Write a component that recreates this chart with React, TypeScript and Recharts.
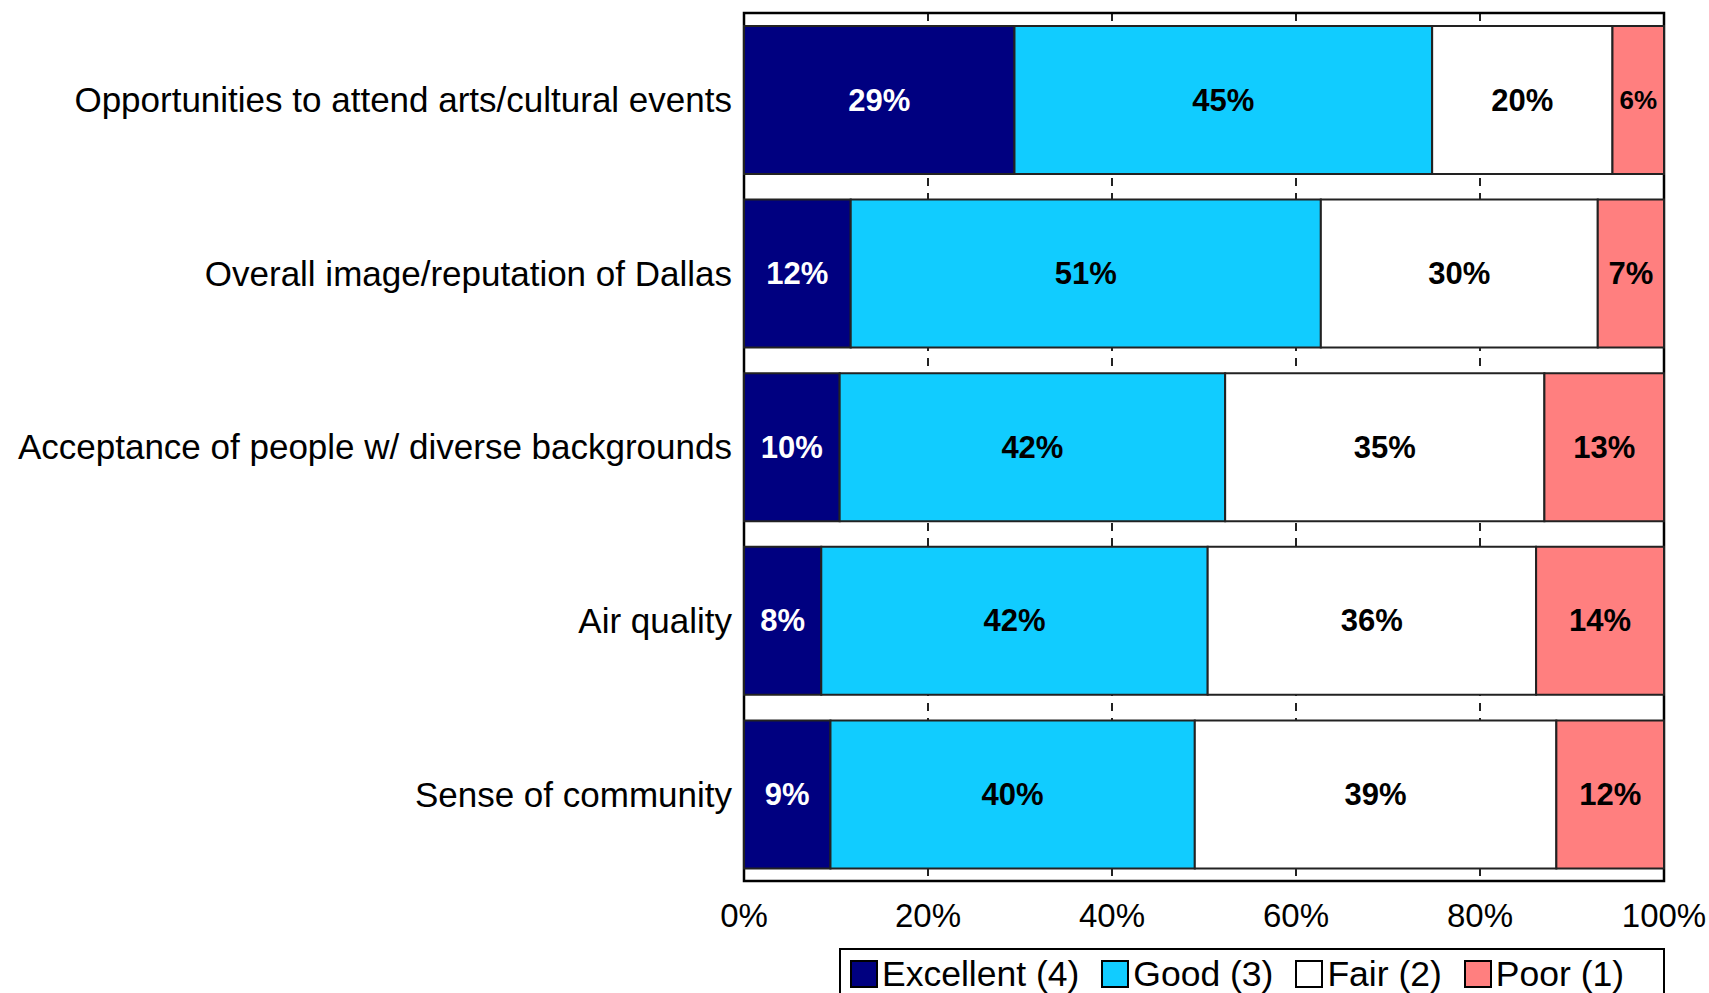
import React from 'react';
import {
  Bar,
  BarChart,
  CartesianGrid,
  LabelList,
  Legend,
  ReferenceArea,
  XAxis,
  YAxis,
} from 'recharts';

const CATEGORIES = [
  'Opportunities to attend arts/cultural events',
  'Overall image/reputation of Dallas',
  'Acceptance of people w/ diverse backgrounds',
  'Air quality',
  'Sense of community',
];

const EXCELLENT = [29.4, 11.6, 10.4, 8.4, 9.4];
const GOOD = [45.4, 51.1, 41.9, 42.0, 39.6];
const FAIR = [19.6, 30.1, 34.7, 35.7, 39.3];
const POOR = [5.6, 7.2, 13.0, 13.9, 11.7];

const X_TICKS = [0, 20, 40, 60, 80, 100];

const SERIES = [
  { key: 'excellent', name: 'Excellent (4)', color: '#000080', text: '#FFFFFF' },
  { key: 'good', name: 'Good (3)', color: '#11CCFF', text: '#000000' },
  { key: 'fair', name: 'Fair (2)', color: '#FFFFFF', text: '#000000' },
  { key: 'poor', name: 'Poor (1)', color: '#FF7F7F', text: '#000000' },
];

const DATA = CATEGORIES.map((name, i) => ({
  name,
  excellent: EXCELLENT[i],
  good: GOOD[i],
  fair: FAIR[i],
  poor: POOR[i],
}));

const FONT = '"Liberation Sans", Arial, sans-serif';

const makeLabel = (fill: string) => (props: any) => {
  const { x, y, width, height, value } = props;
  const size = width < 55 ? 26 : 31;
  return (
    <text
      x={x + width / 2}
      y={y + height / 2}
      textAnchor="middle"
      dominantBaseline="central"
      fill={fill}
      fontFamily={FONT}
      fontWeight="bold"
      fontSize={size}
    >
      {Math.round(value)}%
    </text>
  );
};

const LegendBox: React.FC<any> = () => (
  <div
    style={{
      border: '2px solid #000',
      height: 52,
      width: 826,
      boxSizing: 'border-box',
      display: 'flex',
      alignItems: 'center',
      paddingLeft: 9,
      fontFamily: FONT,
      fontSize: 35.5,
      color: '#000',
      whiteSpace: 'nowrap',
    }}
  >
    {SERIES.map((s) => (
      <span key={s.key} style={{ display: 'flex', alignItems: 'center', marginRight: 22 }}>
        <span
          style={{
            display: 'inline-block',
            width: 28,
            height: 28,
            background: s.color,
            border: '2px solid #000',
            boxSizing: 'border-box',
            marginRight: 4,
          }}
        />
        {s.name}
      </span>
    ))}
  </div>
);

export default function App() {
  return (
    <div style={{ position: 'absolute', left: 0, top: 0, width: 1709, height: 993, overflow: 'hidden', background: '#fff' }}>
      <BarChart
        width={1709}
        height={993}
        data={DATA}
        layout="vertical"
        barSize={148}
        margin={{ top: 13, right: 45, bottom: 52, left: 0 }}
      >
        <CartesianGrid
          horizontal={false}
          vertical
          stroke="#222"
          strokeWidth={2}
          strokeDasharray="8 7"
        />
        <XAxis
          type="number"
          domain={[0, 100]}
          ticks={X_TICKS}
          tickFormatter={(v) => `${v}%`}
          axisLine={false}
          tickLine={false}
          tickMargin={17}
          height={60}
          interval={0}
          tick={{ fill: '#000', fontSize: 33, fontFamily: FONT }}
        />
        <YAxis
          type="category"
          dataKey="name"
          width={744}
          axisLine={false}
          tickLine={false}
          tickMargin={6}
          interval={0}
          tick={{ fill: '#000', fontSize: 35, fontFamily: FONT }}
        />
        {SERIES.map((s) => (
          <Bar
            key={s.key}
            dataKey={s.key}
            name={s.name}
            stackId="a"
            fill={s.color}
            stroke="#222"
            strokeWidth={2}
            isAnimationActive={false}
          >
            <LabelList dataKey={s.key} content={makeLabel(s.text)} />
          </Bar>
        ))}
        <ReferenceArea
          x1={0}
          x2={100}
          fill="none"
          stroke="#000"
          strokeWidth={2.5}
          ifOverflow="visible"
        />
        <Legend
          layout="horizontal"
          align="center"
          verticalAlign="middle"
          content={<LegendBox />}
          wrapperStyle={{ left: 839, top: 948, width: 826, height: 52 }}
        />
      </BarChart>
    </div>
  );
}
